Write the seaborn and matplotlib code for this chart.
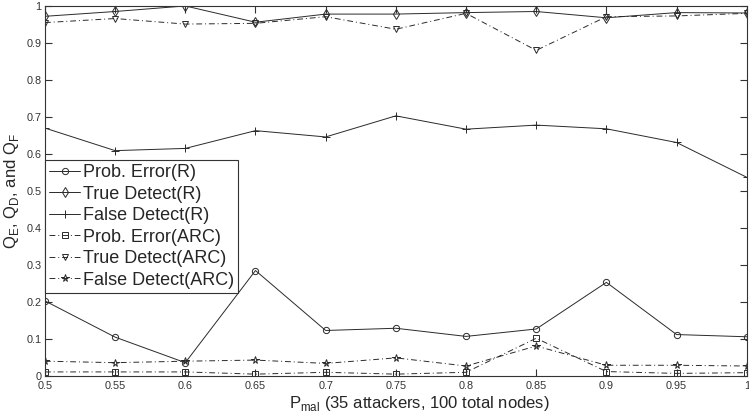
import matplotlib
matplotlib.use("Agg")
import matplotlib.pyplot as plt
import seaborn as sns
import numpy as np

# %%
p_mal = [0.5, 0.55, 0.6, 0.65, 0.7, 0.75, 0.8, 0.85, 0.9, 0.95, 1.0]

prob_error_r = [0.203, 0.105, 0.036, 0.285, 0.123, 0.129, 0.107, 0.127, 0.253, 0.112, 0.106]
true_detect_r = [0.972, 0.985, 1.0, 0.956, 0.978, 0.978, 0.982, 0.985, 0.968, 0.982, 0.981]
false_detect_r = [0.670, 0.609, 0.615, 0.663, 0.646, 0.703, 0.667, 0.678, 0.668, 0.631, 0.537]
prob_error_arc = [0.011, 0.011, 0.011, 0.005, 0.010, 0.005, 0.010, 0.102, 0.012, 0.007, 0.009]
true_detect_arc = [0.955, 0.966, 0.951, 0.953, 0.971, 0.937, 0.980, 0.880, 0.971, 0.973, 0.980]
false_detect_arc = [0.040, 0.036, 0.040, 0.043, 0.034, 0.049, 0.027, 0.081, 0.029, 0.029, 0.027]

x_tick_labels = ["0.5", "0.55", "0.6", "0.65", "0.7", "0.75", "0.8", "0.85", "0.9", "0.95", "1"]
y_tick_labels = ["0", "0.1", "0.2", "0.3", "0.4", "0.5", "0.6", "0.7", "0.8", "0.9", "1"]

dashdot = (0, (6, 3, 1, 3))
series = [
    ("Prob. Error(R)", prob_error_r, "o", "-", 4.5),
    ("True Detect(R)", true_detect_r, "d", "-", 5.5),
    ("False Detect(R)", false_detect_r, "+", "-", 6),
    ("Prob. Error(ARC)", prob_error_arc, "s", dashdot, 4.5),
    ("True Detect(ARC)", true_detect_arc, "v", dashdot, 5),
    ("False Detect(ARC)", false_detect_arc, "*", dashdot, 5.5),
]

# %%
sns.set_style("white")
plt.rcParams["font.family"] = ["Liberation Sans", "DejaVu Sans"]

fig = plt.figure(figsize=(7.49, 4.13), dpi=100)
ax = fig.add_axes([0.060, 0.0896, 0.937, 0.896])

for name, vals, mk, ls, ms in series:
    sns.lineplot(x=p_mal, y=vals, ax=ax, color="#2a2a2a", linewidth=0.7,
                 marker=mk, markersize=ms, markerfacecolor="none",
                 markeredgecolor="#2a2a2a", markeredgewidth=0.7,
                 linestyle=ls, label=name)

ax.set_xlim(0.5, 1.0)
ax.set_ylim(0, 1)
ax.set_xticks(p_mal)
ax.set_xticklabels(x_tick_labels)
ax.set_yticks(np.arange(0, 1.01, 0.1))
ax.set_yticklabels(y_tick_labels)
ax.tick_params(direction="in", length=5, width=0.8, top=True, right=True,
               bottom=True, left=True, labelsize=7.8, colors="#333333",
               labelcolor="#333333", pad=2.5)
ax.tick_params(axis="x", pad=3.5)
for s in ax.spines.values():
    s.set_color("#333333")
    s.set_linewidth(0.8)

ax.set_xlabel(r"P$_{\mathregular{mal}}$ (35 attackers, 100 total nodes)", fontsize=12)
ax.xaxis.set_label_coords(0.534, -0.05, transform=ax.transAxes)
ax.xaxis.label.set_va("top")
ax.set_ylabel(r"Q$_{\mathregular{E}}$, Q$_{\mathregular{D}}$, and Q$_{\mathregular{F}}$", fontsize=12)
ax.yaxis.set_label_coords(-0.034, 0.5, transform=ax.transAxes)

leg = ax.legend(loc="upper left", bbox_to_anchor=(0.0, 0.585), borderaxespad=0,
                fontsize=13, frameon=True, fancybox=False, framealpha=1,
                edgecolor="#333333", handlelength=1.7, handletextpad=0.15,
                labelspacing=0.25, borderpad=0.25)
leg.get_frame().set_linewidth(0.8)

fig.savefig("out.png", dpi=100)
